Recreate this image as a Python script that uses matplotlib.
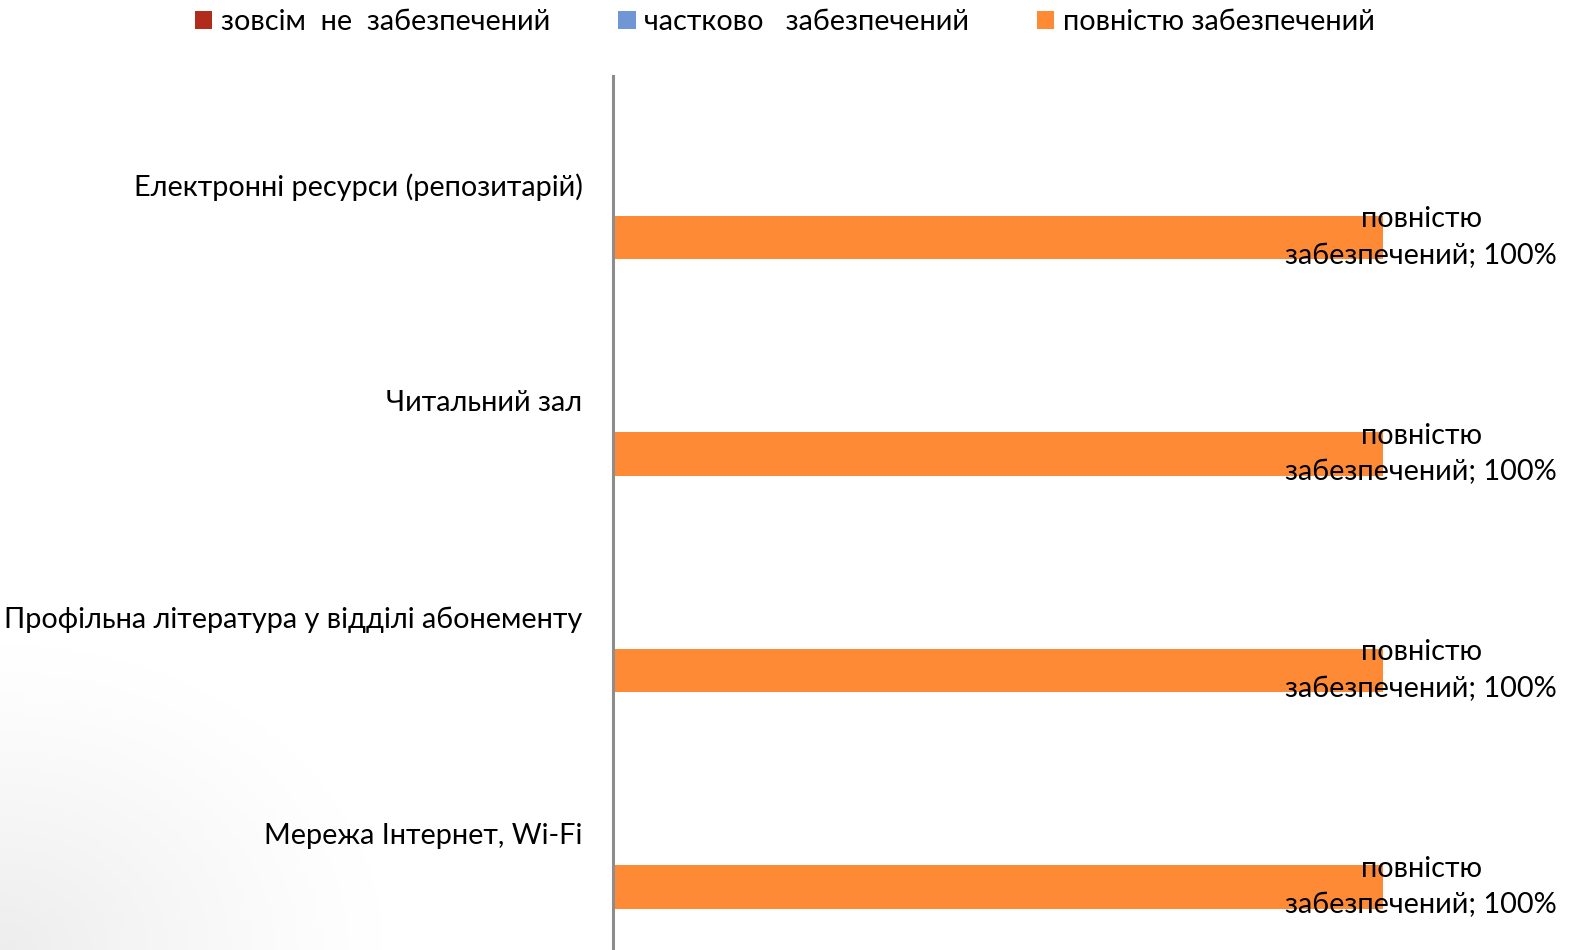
import numpy as np
import matplotlib.pyplot as plt
from matplotlib.patches import Patch

# Data
categories = ["Електронні ресурси (репозитарій)", "Читальний зал",
              "Профільна література у відділі абонементу", "Мережа Інтернет, Wi-Fi"]
series_names = ["зовсім  не  забезпечений", "частково   забезпечений", "повністю забезпечений"]
series_colors = ["#B22C1C", "#7096D6", "#FF8A36"]
values = {
    "зовсім  не  забезпечений": [0, 0, 0, 0],
    "частково   забезпечений": [0, 0, 0, 0],
    "повністю забезпечений": [1.0, 1.0, 1.0, 1.0],
}

plt.rcParams['font.family'] = ['Lato', 'DejaVu Sans']

W, H = 1592, 950
fig = plt.figure(figsize=(W / 100, H / 100), dpi=100)

# faint grey shading in the lower-left corner
bg = fig.add_axes([0, 0, 1, 1], zorder=-10)
xx, yy = np.meshgrid(np.linspace(0, 1, 400), np.linspace(0, 1, 240))
d = np.sqrt((xx / 0.24) ** 2 + (yy / 0.32) ** 2)
shade = 1 - 0.07 * np.clip(1 - d, 0, 1) ** 1.2
bg.imshow(np.dstack([shade] * 3), extent=[0, 1, 0, 1], origin='lower', aspect='auto')
bg.axis('off')

# axes: left edge at x=613px, top at y=76px, runs off bottom of figure
ax = fig.add_axes([613 / W, 0, 924 / W, (H - 76) / H])
ax.patch.set_alpha(0)

FS = 20.8
y = np.arange(len(categories))
offsets = [-0.247, 0.0, 0.247]
bar_h = 0.2
for name, color, off in zip(series_names, series_colors, offsets):
    vals = values[name]
    ax.barh(y + off, vals, height=bar_h, color=color, label=name)
    for yi, v in zip(y + off, vals):
        if v > 0:
            ax.annotate(f"повністю\nзабезпечений; {v:.0%}", (v, yi),
                        xytext=(27.5, 0), textcoords='offset points',
                        ha='center', va='center', fontsize=FS,
                        linespacing=1.5, annotation_clip=False)

ax.set_xlim(0, 1.2)
ax.set_ylim(3.538, -0.5)
ax.set_yticks(y)
ax.set_yticklabels(categories, fontsize=FS)
ax.tick_params(axis='y', length=0, pad=22)
ax.set_xticks([])
for s in ['top', 'right', 'bottom']:
    ax.spines[s].set_visible(False)
ax.spines['left'].set_color('#8c8c8c')
ax.spines['left'].set_linewidth(2.2)

handles = [Patch(facecolor=c, edgecolor='none', label=n) for n, c in zip(series_names, series_colors)]
fig.legend(handles=handles, loc='upper center', bbox_to_anchor=(785 / W, 1.018), ncol=3,
           frameon=False, fontsize=FS, handlelength=0.6, handleheight=0.6,
           handletextpad=0.3, columnspacing=2.35)

fig.savefig("out.png", dpi=100)
